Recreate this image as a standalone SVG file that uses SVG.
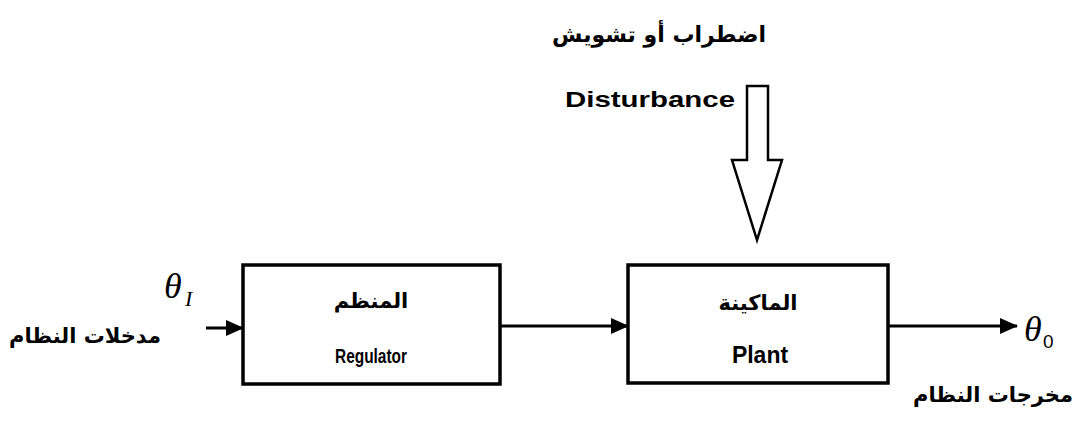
<svg xmlns="http://www.w3.org/2000/svg" width="1083" height="424" viewBox="0 0 1083 424">
<style>
.box{fill:#fff;stroke:#000;stroke-width:3.5}
.line{stroke:#000;stroke-width:3;fill:none}
.ar{font-family:"DejaVu Sans","Noto Sans",sans-serif;font-weight:bold;fill:#000}
.en{font-family:"Liberation Sans",Arial,sans-serif;font-weight:bold;fill:#000}
.th{font-family:"Liberation Serif","Times New Roman",serif;font-style:italic;fill:#000}
.sub{font-family:"Liberation Sans",Arial,sans-serif;fill:#000}
</style>
<defs>
<marker id="ahb" markerWidth="18" markerHeight="16" refX="17" refY="8" orient="auto" markerUnits="userSpaceOnUse" viewBox="0 0 18 16">
<path d="M0,0 L18,8 L0,16 Z" fill="#000"/>
</marker>
</defs>
<rect width="1083" height="424" fill="#fff"/>
<g id="connectors">
<line class="line" x1="206" y1="328" x2="243" y2="328" marker-end="url(#ahb)"/>
<line class="line" x1="500" y1="326" x2="628" y2="326" marker-end="url(#ahb)"/>
<line class="line" x1="888" y1="326" x2="1017" y2="326" marker-end="url(#ahb)"/>
<path id="disturbance-arrow" d="M747,86 L768,86 L768,160 L782,160 L757,240 L732,160 L747,160 Z" fill="#fff" stroke="#000" stroke-width="2.5" stroke-linejoin="miter"/>
</g>
<g id="regulator">
<rect class="box" x="243" y="265" width="257" height="119"/>
<text class="ar" x="371" y="308" font-size="21" text-anchor="middle">المنظم</text>
<text class="en" x="371" y="363" font-size="20" text-anchor="middle" textLength="72" lengthAdjust="spacingAndGlyphs">Regulator</text>
</g>
<g id="plant">
<rect class="box" x="628" y="265" width="260" height="118"/>
<text class="ar" x="758" y="310" font-size="21" text-anchor="middle">الماكينة</text>
<text class="en" x="760" y="363" font-size="23" text-anchor="middle">Plant</text>
</g>
<g id="input">
<text class="th" x="164" y="298" font-size="36">θ</text>
<text class="th" x="185" y="306" font-size="22">I</text>
<text class="ar" x="85" y="343" font-size="21" text-anchor="middle">مدخلات النظام</text>
</g>
<g id="output">
<text class="th" x="1024" y="341" font-size="36">θ</text>
<text class="sub" x="1043" y="348" font-size="19">0</text>
<text class="ar" x="993" y="402" font-size="21" text-anchor="middle">مخرجات النظام</text>
</g>
<g id="disturbance">
<text class="ar" x="659" y="42" font-size="22" text-anchor="middle">اضطراب أو تشويش</text>
<text class="en" x="650" y="107" font-size="22" text-anchor="middle" textLength="170" lengthAdjust="spacingAndGlyphs">Disturbance</text>
</g>
</svg>
